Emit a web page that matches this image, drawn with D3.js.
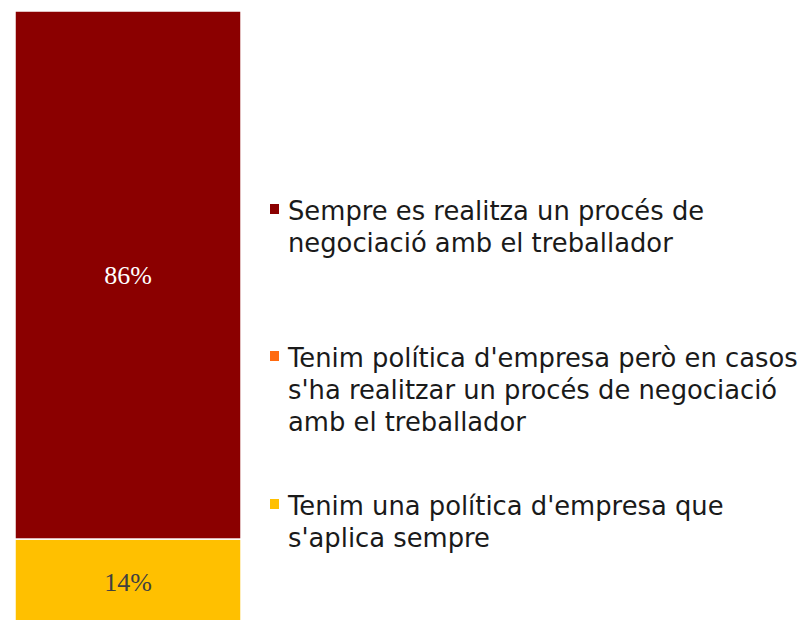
<!doctype html>
<html>
  <head>
    <meta charset="UTF-8">
    <title>negociacio</title>
    <style>
      body { margin: 0; background: #fff; }
      .legend text { font-family: "DejaVu Sans", sans-serif; font-size: 25.8px; fill: #1a1a1a; }
      .pct { font-family: "Liberation Serif", serif; font-size: 26px; text-anchor: middle; }
    </style>
  </head>
  <body>
    <svg id="chart" width="806" height="620"></svg>
    <script src="https://d3js.org/d3.v7.min.js"></script>
    <script>
      // Categories, from the bottom of the bar to the top
      const categories = ["una", "casos", "sempre"];
      const values = [14, 0, 86];
      const colors = ["#FFC000", "#FF6A10", "#8B0000"];
      const labelColors = ["#404040", "#404040", "#ffffff"];
      // Legend text, top to bottom, one array per entry (as wrapped in the picture)
      const legendOrder = ["sempre", "casos", "una"];
      const legendLines = [
        ["Sempre es realitza un procés de", "negociació amb el treballador"],
        ["Tenim política d'empresa però en casos", "s'ha realitzar un procés de negociació", "amb el treballador"],
        ["Tenim una política d'empresa que", "s'aplica sempre"]
      ];

      const svg = d3.select("#chart");

      const row = {};
      categories.forEach((c, i) => row[c] = values[i]);
      const stack = d3.stack().keys(categories)([row]);

      const y = d3.scaleLinear().domain([0, 100]).range([625, 11]);
      const x = d3.scaleBand().domain(["bar"]).range([15, 241]).padding(0);
      const color = d3.scaleOrdinal().domain(categories).range(colors);

      // bar segments
      svg.append("g").selectAll("rect")
        .data(stack)
        .enter().append("rect")
          .attr("x", x("bar"))
          .attr("width", x.bandwidth())
          .attr("y", d => y(d[0][1]))
          .attr("height", d => y(d[0][0]) - y(d[0][1]))
          .attr("fill", d => color(d.key))
          .attr("stroke", "#fff")
          .attr("stroke-width", 1.5);

      // percentage labels
      svg.append("g").selectAll("text")
        .data(stack.filter(d => d[0][1] - d[0][0] > 0))
        .enter().append("text")
          .attr("class", "pct")
          .attr("x", x("bar") + x.bandwidth() / 2)
          .attr("y", d => y((d[0][0] + d[0][1]) / 2))
          .attr("dy", "0.35em")
          .attr("fill", d => labelColors[categories.indexOf(d.key)])
          .text(d => Math.round(d[0][1] - d[0][0]) + "%");

      // legend
      const legendY = [220, 367, 515];
      const lineH = 32;
      const lg = svg.append("g").attr("class", "legend");
      legendOrder.forEach((key, i) => {
        const g = lg.append("g").attr("transform", `translate(270,${legendY[i]})`);
        g.append("rect")
          .attr("x", 0).attr("y", -16)
          .attr("width", 9).attr("height", 10)
          .attr("fill", color(key));
        const t = g.append("text").attr("x", 18).attr("y", 0);
        legendLines[i].forEach((line, j) => {
          t.append("tspan").attr("x", 18).attr("y", j * lineH).text(line);
        });
      });
    </script>
  </body>
</html>
